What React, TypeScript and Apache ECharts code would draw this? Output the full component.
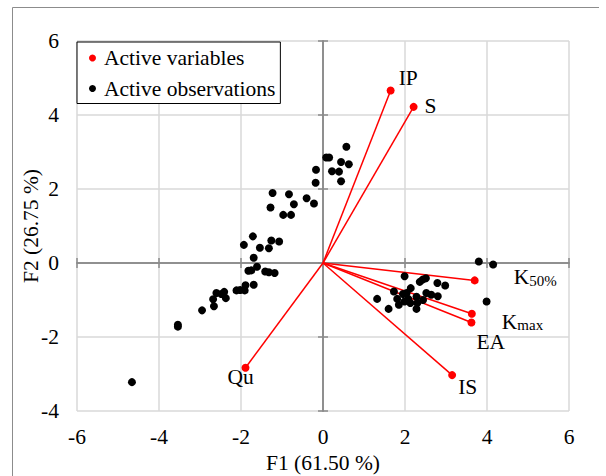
import React, { useEffect, useRef } from 'react';
import * as echarts from 'echarts';

// Active variables (loadings scaled in F1/F2 space)
const varNames = ['IP', 'S', 'K50%', 'Kmax', 'EA', 'IS', 'Qu'];
const varF1 = [1.65, 2.21, 3.70, 3.63, 3.62, 3.15, -1.89];
const varF2 = [4.66, 4.22, -0.47, -1.37, -1.61, -3.03, -2.83];

// Active observations
const obsF1 = [
  0.57, 0.08, 0.15, 0.44, 0.63, -0.17, 0.22, 0.39, 0.44, -0.18,
  -0.40, -0.22, -1.23, -0.83, -0.71, -1.28, -0.97, -0.78, -1.71, -1.93,
  -1.54, -1.26, -1.07, -1.32, -1.69, -1.61, -1.82, -1.75, -1.41, -1.32,
  -1.18, -1.89, -1.69, -1.91, -2.11, -2.02, -2.60, -2.41, -2.48, -2.68,
  -2.37, -2.66, -2.95, -3.54, -3.54, -4.66,
  1.99, 2.36, 2.43, 2.51, 2.79, 2.98, 1.73, 1.32, 1.60, 1.81,
  1.85, 1.95, 2.04, 2.14, 2.08, 1.99, 2.28, 2.30, 2.28, 2.44,
  2.13, 2.52, 2.64, 2.80, 3.80, 4.15, 3.99,
];
const obsF2 = [
  3.14, 2.85, 2.85, 2.73, 2.67, 2.52, 2.48, 2.47, 2.21, 2.17,
  1.75, 1.61, 1.89, 1.86, 1.59, 1.50, 1.30, 1.30, 0.72, 0.49,
  0.41, 0.61, 0.58, 0.40, 0.14, -0.10, -0.21, -0.20, -0.23, -0.25,
  -0.27, -0.60, -0.59, -0.74, -0.74, -0.73, -0.81, -0.78, -0.84, -0.98,
  -0.95, -1.17, -1.28, -1.67, -1.72, -3.22,
  -0.36, -0.51, -0.45, -0.41, -0.54, -0.61, -0.77, -0.97, -1.24, -0.97,
  -1.13, -0.84, -0.81, -0.68, -0.97, -1.04, -0.91, -1.08, -1.24, -1.00,
  -1.08, -0.81, -0.86, -0.90, 0.04, -0.04, -1.04,
];

const xMin = -6;
const xMax = 6;
const yMin = -4;
const yMax = 6;
const tickStep = 2;

const xTitle = 'F1 (61.50 %)';
const yTitle = 'F2 (26.75 %)';
const legendVariables = 'Active variables';
const legendObservations = 'Active observations';

// label placement (pixels, relative to point) – style only
const labelOffsets: number[][] = [
  [8, -13],
  [11, -1],
  [39, -3],
  [30, 8],
  [5, 19],
  [6, 12],
  [-18, 9],
];

const FONT = '"Liberation Serif", "Times New Roman", serif';
const FS = 21.5;
const GRID_COLOR = '#d9d9d9';
const AXIS_COLOR = '#8a8a8a';

function richName(n: string): string {
  if (n === 'K50%') return '{k|K}{s|50%}';
  if (n === 'Kmax') return '{k|K}{s|max}';
  return '{k|' + n + '}';
}

export default function App() {
  const ref = useRef<HTMLDivElement>(null);

  useEffect(() => {
    if (!ref.current) return;
    const chart = echarts.init(ref.current, null, { renderer: 'svg' });

    const mainX = {
      type: 'value',
      min: xMin,
      max: xMax,
      interval: tickStep,
      position: 'bottom',
      axisLine: { show: false, onZero: false },
      axisTick: { show: false },
      splitLine: { show: true, lineStyle: { color: GRID_COLOR, width: 1.5 } },
      axisLabel: { fontFamily: FONT, fontSize: FS, color: '#000', margin: 15 },
    };
    const mainY = {
      type: 'value',
      min: yMin,
      max: yMax,
      interval: tickStep,
      position: 'left',
      axisLine: { show: false, onZero: false },
      axisTick: { show: false },
      splitLine: { show: true, lineStyle: { color: GRID_COLOR, width: 1.5 } },
      axisLabel: { fontFamily: FONT, fontSize: FS, color: '#000', margin: 18 },
    };
    const zeroX = (inside: boolean, idx: number) => ({
      type: 'value',
      min: xMin,
      max: xMax,
      interval: tickStep,
      axisLine: { show: true, onZero: true, onZeroAxisIndex: idx, lineStyle: { color: AXIS_COLOR, width: 1.5 } },
      axisTick: { show: true, inside, length: 5, lineStyle: { color: AXIS_COLOR, width: 1.5 } },
      axisLabel: { show: false },
      splitLine: { show: false },
    });
    const zeroY = (inside: boolean, idx: number) => ({
      type: 'value',
      min: yMin,
      max: yMax,
      interval: tickStep,
      axisLine: { show: true, onZero: true, onZeroAxisIndex: idx, lineStyle: { color: AXIS_COLOR, width: 1.5 } },
      axisTick: { show: true, inside, length: 5, lineStyle: { color: AXIS_COLOR, width: 1.5 } },
      axisLabel: { show: false },
      splitLine: { show: false },
    });

    const option: any = {
      animation: false,
      backgroundColor: '#ffffff',
      grid: { left: 77, top: 41, width: 492, height: 370, containLabel: false },
      xAxis: [mainX, zeroX(false, 0), zeroX(true, 0)],
      yAxis: [mainY, zeroY(false, 0), zeroY(true, 0)],
      legend: {
        data: [legendVariables, legendObservations],
        orient: 'vertical',
        left: 77,
        top: 42,
        backgroundColor: '#ffffff',
        borderColor: '#000000',
        borderWidth: 1,
        borderRadius: 0,
        padding: [5, 5, 4, 12],
        itemGap: 8.5,
        itemWidth: 7,
        itemHeight: 7,
        icon: 'circle',
        textStyle: { fontFamily: FONT, fontSize: FS, color: '#000', padding: [0, 0, 0, 3] },
        selectedMode: false,
        z: 10,
      },
      graphic: [
        {
          type: 'polyline',
          silent: true,
          shape: { points: [[12.5, 480], [12.5, 7.5], [599, 7.5]] },
          style: { fill: 'none', stroke: '#8c8c8c', lineWidth: 1 },
        },
        {
          type: 'text',
          x: 323,
          y: 463,
          style: {
            text: xTitle,
            font: FS + 'px ' + FONT,
            fill: '#000',
            align: 'center',
            verticalAlign: 'middle',
          },
        },
        {
          type: 'text',
          x: 31,
          y: 226,
          rotation: Math.PI / 2,
          style: {
            text: yTitle,
            font: FS + 'px ' + FONT,
            fill: '#000',
            align: 'center',
            verticalAlign: 'middle',
          },
        },
      ],
      series: [
        {
          type: 'lines',
          coordinateSystem: 'cartesian2d',
          silent: true,
          z: 2,
          lineStyle: { color: '#ff0000', width: 1.5, opacity: 1 },
          data: varNames.map((n, i) => ({ name: n, coords: [[0, 0], [varF1[i], varF2[i]]] })),
        },
        {
          name: legendObservations,
          type: 'scatter',
          z: 3,
          symbolSize: 8,
          itemStyle: { color: '#000000', opacity: 1 },
          data: obsF1.map((x, i) => [x, obsF2[i]]),
        },
        {
          name: legendVariables,
          type: 'scatter',
          z: 4,
          symbolSize: 8,
          itemStyle: { color: '#ff0000', opacity: 1 },
          data: varNames.map((n, i) => ({
            name: n,
            value: [varF1[i], varF2[i]],
            label: {
              show: true,
              position: 'inside',
              align: 'left',
              verticalAlign: 'middle',
              offset: labelOffsets[i],
              formatter: richName(n),
              rich: {
                k: { fontFamily: FONT, fontSize: FS, color: '#000', lineHeight: 22, verticalAlign: 'top' },
                s: { fontFamily: FONT, fontSize: 15, color: '#000', lineHeight: 15, padding: [12, 0, 0, 0], verticalAlign: 'bottom' },
              },
            },
          })),
        },
      ],
    };

    chart.setOption(option);
    return () => chart.dispose();
  }, []);

  return (
    <div
      ref={ref}
      style={{ position: 'fixed', left: 0, top: 0, width: 606, height: 476, background: '#fff' }}
    />
  );
}
